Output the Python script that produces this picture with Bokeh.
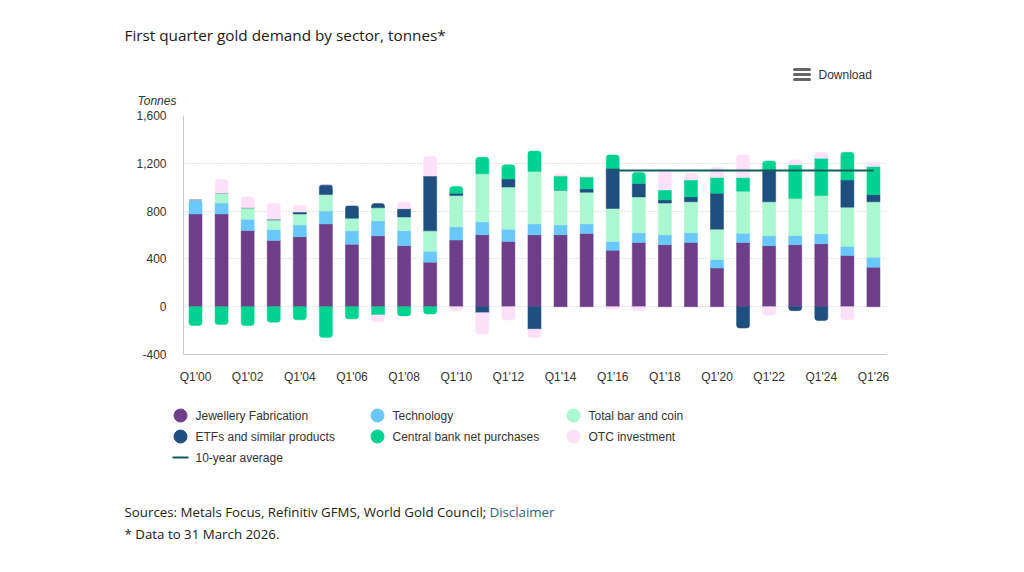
from bokeh.plotting import figure
from bokeh.layouts import column
from bokeh.models import (ColumnDataSource, Label, FixedTicker, NumeralTickFormatter, Range1d)
from bokeh.embed import file_html
from bokeh.resources import INLINE

# First-quarter gold demand by sector, tonnes
periods = ["Q1'00", "Q1'01", "Q1'02", "Q1'03", "Q1'04", "Q1'05", "Q1'06", "Q1'07", "Q1'08",
           "Q1'09", "Q1'10", "Q1'11", "Q1'12", "Q1'13", "Q1'14", "Q1'15", "Q1'16", "Q1'17",
           "Q1'18", "Q1'19", "Q1'20", "Q1'21", "Q1'22", "Q1'23", "Q1'24", "Q1'25", "Q1'26"]

jewellery = [776, 776, 638, 555, 585, 693, 522, 593, 511, 373, 558, 602, 546, 602,
             602, 613, 472, 538, 519, 538, 323, 538, 511, 519, 527, 428, 331]
technology = [118, 91, 93, 91, 99, 107, 113, 125, 124, 91, 110, 107, 103, 91,
              82, 80, 74, 80, 83, 80, 72, 77, 82, 77, 83, 77, 83]
bar_and_coin = [0, 82, 97, 80, 92, 138, 105, 110, 116, 171, 262, 403, 353, 439,
                293, 265, 276, 301, 265, 260, 254, 351, 285, 309, 320, 328, 464]
etfs = [0, 0, 0, 5, 16, 83, 107, 36, 69, 458, 19, -50, 66, -188,
        0, 27, 337, 113, 27, 41, 300, -179, 270, -33, -116, 227, 60]
central_banks = [-157, -149, -157, -130, -110, -257, -102, -69, -77, -61, 56, 138, 119, 171,
                 116, 100, 111, 91, 83, 141, 133, 116, 72, 282, 312, 232, 235]
otc = [0, 116, 91, 133, 55, 0, 0, -55, 55, 163, -33, -179, -110, -69,
       17, 10, -22, -33, 160, 55, 83, 188, -69, 41, 50, -110, 33]

ten_year_average = 1140
average_span = ["Q1'16", "Q1'26"]

y_ticks = [-400, 0, 400, 800, 1200, 1600]
x_tick_labels = periods[::2]

series = [
    ("Jewellery Fabrication", jewellery, "#6e3f88"),
    ("Technology", technology, "#69c8f9"),
    ("Total bar and coin", bar_and_coin, "#abf7d1"),
    ("ETFs and similar products", etfs, "#1e4f7e"),
    ("Central bank net purchases", central_banks, "#00d391"),
    ("OTC investment", otc, "#fde1f8"),
]
avg_color = "#115e5b"
text_color = "#333333"

W = 1024
HEAD_H = 108            # header strip: title, download button, unit label
FOOT_TOP = 395          # footer strip starts here: legend and sources
PAGE_H = 572
FL, FR, FT, FB = 183, 886, 115, 354   # plot frame edges on the page


def strip(top, bottom):
    """A figure whose data coordinates are page pixels (y grows downward)."""
    f = figure(width=W, height=bottom - top, output_backend="svg", toolbar_location=None,
               x_range=Range1d(0, W), y_range=Range1d(bottom, top),
               x_axis_type=None, y_axis_type=None, frame_align=False,
               min_border=0, min_border_left=0, min_border_right=0,
               min_border_top=0, min_border_bottom=0)
    f.outline_line_color = None
    f.grid.visible = False
    f.background_fill_color = "white"
    f.border_fill_color = "white"
    return f


def put(f, text, x, y, size, font="Open Sans", color="#222222", style="normal"):
    f.add_layout(Label(x=x, y=y, text=text, text_font=font, text_font_size=size,
                       text_color=color, text_font_style=style,
                       text_align="left", text_baseline="middle"))


# ---------- header ----------
head = strip(0, HEAD_H)
put(head, "First quarter gold demand by sector, tonnes*", 124, 34, "15.3px", color="#1a1a1a")
for yy in (69, 74, 79):
    head.segment(x0=[794], y0=[yy], x1=[809], y1=[yy], line_color="#666666",
                 line_width=3, line_cap="round")
put(head, "Download", 818, 74, "12px", font="Liberation Sans", color=text_color)
put(head, "Tonnes", 137, 100, "12px", font="Liberation Sans", color=text_color, style="italic")

# ---------- main chart ----------
p = figure(width=W, height=FOOT_TOP - HEAD_H, output_backend="svg", toolbar_location=None,
           x_range=Range1d(-0.46, 26.5), y_range=Range1d(-400, 1600), frame_align=False,
           min_border_left=FL, min_border_right=W - FR,
           min_border_top=FT - HEAD_H, min_border_bottom=FOOT_TOP - FB)
p.outline_line_color = None
p.background_fill_color = "white"
p.border_fill_color = "white"

xs = list(range(len(periods)))
n = len(xs)

# outermost segment of each column gets rounded ends
last_pos = [None] * n
last_neg = [None] * n
for k, (_, vals, _) in enumerate(series):
    for i, v in enumerate(vals):
        if v > 0:
            last_pos[i] = k
        elif v < 0:
            last_neg[i] = k

# stacked bars: positives build upward, negatives downward, in series order
pos_base = [0.0] * n
neg_base = [0.0] * n
for k, (name, vals, color) in enumerate(series):
    groups = {"inner": dict(x=[], bottom=[], top=[]),
              "top": dict(x=[], bottom=[], top=[]),
              "bottom": dict(x=[], bottom=[], top=[])}
    for i, v in enumerate(vals):
        if v >= 0:
            b, t = pos_base[i], pos_base[i] + v
            pos_base[i] += v
            g = "top" if last_pos[i] == k else "inner"
        else:
            b, t = neg_base[i] + v, neg_base[i]
            neg_base[i] += v
            g = "bottom" if last_neg[i] == k else "inner"
        groups[g]["x"].append(i)
        groups[g]["bottom"].append(b)
        groups[g]["top"].append(t)
    radii = {"inner": 0, "top": (3, 3, 0, 0), "bottom": (0, 0, 3, 3)}
    for g, data in groups.items():
        if not data["x"]:
            continue
        p.vbar(x="x", bottom="bottom", top="top", width=0.5, source=ColumnDataSource(data),
               fill_color=color, line_color=color, line_width=0.5, border_radius=radii[g])

p.line(x=[periods.index(average_span[0]), periods.index(average_span[1])],
       y=[ten_year_average, ten_year_average], line_color=avg_color, line_width=2)

p.xaxis.ticker = FixedTicker(ticks=[periods.index(t) for t in x_tick_labels])
p.xaxis.major_label_overrides = {periods.index(t): t for t in x_tick_labels}
p.yaxis.ticker = FixedTicker(ticks=y_ticks)
p.yaxis.formatter = NumeralTickFormatter(format="0,0")
for ax in (p.xaxis, p.yaxis):
    ax.major_tick_line_color = None
    ax.minor_tick_line_color = None
    ax.axis_line_color = "#c8c8c8"
    ax.major_label_text_font = "Liberation Sans"
    ax.major_label_text_font_size = "12px"
    ax.major_label_text_color = text_color
p.xaxis.major_label_standoff = 9
p.yaxis.major_label_standoff = 11
p.xgrid.grid_line_color = None
p.ygrid.grid_line_color = "#c8c8c8"
p.ygrid.grid_line_dash = "1 2"

# ---------- footer: legend and sources ----------
foot = strip(FOOT_TOP, PAGE_H)
legend_slots = [(180, 415), (377, 415), (573, 415), (180, 436), (377, 436), (573, 436)]
for (name, vals, color), (lx, ly) in zip(series, legend_slots):
    foot.scatter(x=[lx], y=[ly], size=13, marker="circle", fill_color=color, line_color=color)
    put(foot, name, lx + 15, ly, "12px", font="Liberation Sans", color=text_color)
foot.segment(x0=[172], y0=[457], x1=[188], y1=[457], line_color=avg_color, line_width=2)
put(foot, "10-year average", 195, 457, "12px", font="Liberation Sans", color=text_color)

put(foot, "Sources: Metals Focus, Refinitiv GFMS, World Gold Council;", 124, 511, "13.3px")
put(foot, "Disclaimer", 489, 511, "13.3px", color="#2b6289")
put(foot, "* Data to 31 March 2026.", 124, 533, "13.3px")

layout = column(head, p, foot, spacing=0)
open("out.html", "w").write(file_html(layout, INLINE))
